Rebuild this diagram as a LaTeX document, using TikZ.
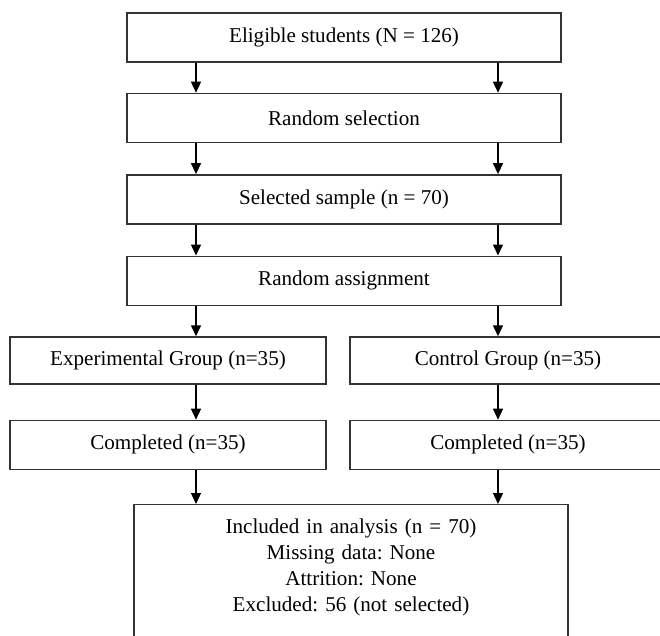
\documentclass[tikz,border=0pt]{standalone}
\usepackage{fontspec}
\setmainfont{Liberation Serif}
\usepackage{tikz}
\usetikzlibrary{arrows.meta}
\usetikzlibrary{positioning}
\frenchspacing

\begin{document}
\begin{tikzpicture}[
    box/.style={draw=black!80, line width=0.8pt, minimum height=0.98cm,
      inner sep=0pt, font=\fontsize{12}{14.75}\selectfont},
    wide/.style={box, minimum width=8.68cm},
    half/.style={box, minimum width=6.32cm},
    arr/.style={-{Triangle[length=2.2mm, width=2mm]}, line width=0.8pt}
  ]
  \useasboundingbox (0,0) rectangle (13.2,12.7);

  % 上部
  \node[wide] (eligible) at (6.88,11.95) {Eligible students (N = 126)};
  \node[wide, below=0.6cm of eligible] (selection) {Random selection};
  \node[wide, below=0.62cm of selection] (sample) {Selected sample (n = 70)};
  \node[wide, below=0.62cm of sample] (assign) {Random assignment};

  % 两组
  \node[half, minimum height=0.94cm] (exp) at (3.36,5.49) {Experimental Group (n=35)};
  \node[half, minimum height=0.94cm] (ctrl) at (10.16,5.49) {Control Group (n=35)};
  \node[half, below=0.7cm of exp] (donel) {Completed (n=35)};
  \node[half, below=0.7cm of ctrl] (doner) {Completed (n=35)};

  % 分析
  \node[draw=black!80, line width=0.8pt, anchor=north, text width=8.2cm,
    inner xsep=0.24cm, inner ysep=0.28cm, align=center,
    font=\fontsize{12}{14.75}\selectfont] (analysis) at (7.02,2.62)
    {Included in analysis (n = 70)\\ Missing data: None\\ Attrition: None\\
     Excluded: 56 (not selected)\rule[-1.5cm]{0pt}{0pt}};

  % 箭头
  \coordinate (lx) at (3.92,0);
  \coordinate (rx) at (9.96,0);
  \foreach \a/\b in {eligible/selection, selection/sample, sample/assign,
      assign/exp, exp/donel, donel/analysis}
    \draw[arr] (\a.south -| lx) -- (\b.north -| lx);
  \foreach \a/\b in {eligible/selection, selection/sample, sample/assign,
      assign/ctrl, ctrl/doner, doner/analysis}
    \draw[arr] (\a.south -| rx) -- (\b.north -| rx);
\end{tikzpicture}
\end{document}
